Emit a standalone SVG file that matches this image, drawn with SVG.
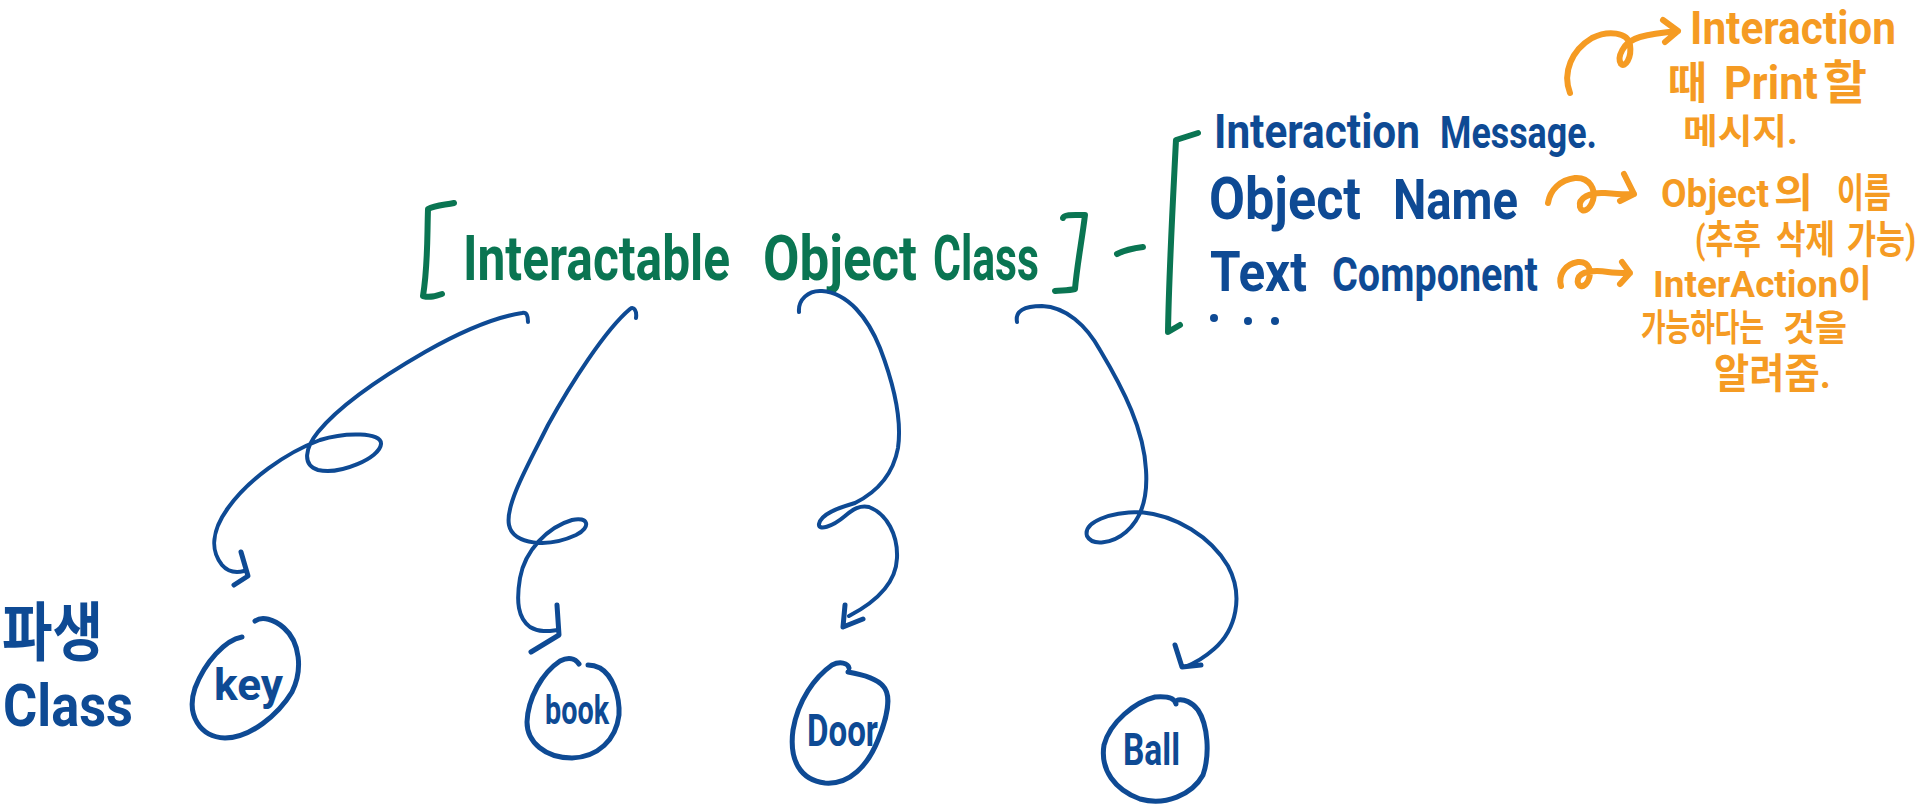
<svg xmlns="http://www.w3.org/2000/svg" width="1920" height="806" viewBox="0 0 1920 806">
<style>
.g{fill:none;stroke:#0a7552;stroke-width:6;stroke-linecap:round;stroke-linejoin:round}
.b{fill:none;stroke:#0e4a94;stroke-width:5;stroke-linecap:round;stroke-linejoin:round}
.bt{fill:none;stroke:#0e4a94;stroke-width:4;stroke-linecap:round;stroke-linejoin:round}
.o{fill:none;stroke:#f59b23;stroke-width:6;stroke-linecap:round;stroke-linejoin:round}
text{font-family:Roboto,"Noto Sans CJK KR",sans-serif;font-weight:700}
.tg{fill:#0a7552}
.tb{fill:#0e4a94}
.to{fill:#f59b23}
</style>
<rect width="1920" height="806" fill="#ffffff"/>

<g id="base-class">
  <path class="g" d="M454,203 C445,205 435,205 428,209 C427,240 428,265 423,296 C430,298 436,296 442,294"/>
  <text class="tg" transform="translate(463,280) scale(1,1.15)" font-size="54" textLength="267" lengthAdjust="spacingAndGlyphs">Interactable</text>
  <text class="tg" transform="translate(763,280) scale(1,1.15)" font-size="54" textLength="154" lengthAdjust="spacingAndGlyphs">Object</text>
  <text class="tg" transform="translate(933,280) scale(1,1.15)" font-size="54" textLength="106" lengthAdjust="spacingAndGlyphs">Class</text>
  <path class="g" d="M1063,218 C1064,214 1075,215 1085,215 C1082,240 1077,265 1075,289 C1068,291 1060,290 1055,291"/>
  <path class="g" d="M1117,254 C1125,250 1135,248 1143,247"/>
</g>

<g id="members">
  <path class="g" d="M1198,133 L1176,140 C1173,200 1169,270 1168,332 L1180,325"/>
  <text class="tb" transform="translate(1214,148) scale(1,1.1)" font-size="44" textLength="206" lengthAdjust="spacingAndGlyphs">Interaction</text>
  <text class="tb" transform="translate(1440,148) scale(1,1.1)" font-size="40" textLength="157" lengthAdjust="spacingAndGlyphs">Message.</text>
  <text class="tb" transform="translate(1209,219) scale(1,1.15)" font-size="52" textLength="152" lengthAdjust="spacingAndGlyphs">Object</text>
  <text class="tb" transform="translate(1393,219) scale(1,1.15)" font-size="48" textLength="125" lengthAdjust="spacingAndGlyphs">Name</text>
  <text class="tb" transform="translate(1210,291) scale(1,1.1)" font-size="50" textLength="97" lengthAdjust="spacingAndGlyphs">Text</text>
  <text class="tb" transform="translate(1332,291) scale(1,1.1)" font-size="44" textLength="206" lengthAdjust="spacingAndGlyphs">Component</text>
  <circle cx="1214" cy="318" r="4" fill="#0e4a94"/>
  <circle cx="1248" cy="321" r="4" fill="#0e4a94"/>
  <circle cx="1275" cy="321" r="4" fill="#0e4a94"/>
</g>

<g id="notes">
  <path class="o" d="M1570,93 C1562,72 1572,50 1592,38 C1608,30 1628,32 1630,45 C1632,58 1625,68 1621,64 C1617,58 1622,42 1640,37 C1655,33 1668,32 1678,31 M1663,20 L1678,31 L1665,42"/>
  <text class="to" transform="translate(1690,44) scale(1,1.05)" font-size="44" textLength="206" lengthAdjust="spacingAndGlyphs">Interaction</text>
  <text class="to" transform="translate(1668,99) scale(1,1.05)" font-size="42" textLength="39" lengthAdjust="spacingAndGlyphs">때</text>
  <text class="to" transform="translate(1724,99) scale(1,1.05)" font-size="44" textLength="94" lengthAdjust="spacingAndGlyphs">Print</text>
  <text class="to" transform="translate(1823,99) scale(1,1.05)" font-size="44" textLength="44" lengthAdjust="spacingAndGlyphs">할</text>
  <text class="to" x="1683" y="144" font-size="35" textLength="115" lengthAdjust="spacingAndGlyphs">메시지.</text>

  <path class="o" d="M1548,203 C1550,190 1560,180 1575,178 C1590,177 1596,190 1593,200 C1590,210 1582,214 1580,207 C1578,198 1590,192 1605,193 C1615,194 1625,195 1634,194 M1624,174 L1634,194 L1620,201"/>
  <text class="to" x="1661" y="207" font-size="39" textLength="108" lengthAdjust="spacingAndGlyphs">Object</text>
  <text class="to" x="1774" y="207" font-size="40" textLength="39" lengthAdjust="spacingAndGlyphs">의</text>
  <text class="to" x="1837" y="207" font-size="40" textLength="54" lengthAdjust="spacingAndGlyphs">이름</text>
  <text class="to" transform="translate(1695,253) scale(1,1.13)" font-size="34" textLength="66" lengthAdjust="spacingAndGlyphs">(추후</text>
  <text class="to" transform="translate(1776,253) scale(1,1.13)" font-size="34" textLength="59" lengthAdjust="spacingAndGlyphs">삭제</text>
  <text class="to" transform="translate(1847,253) scale(1,1.28)" font-size="30" textLength="69" lengthAdjust="spacingAndGlyphs">가능)</text>

  <path class="o" d="M1561,286 C1558,275 1565,264 1578,262 C1590,261 1592,272 1588,281 C1584,289 1576,287 1578,279 C1580,271 1595,270 1608,272 C1615,273 1622,273 1630,273 M1622,262 L1630,273 L1620,284"/>
  <text class="to" x="1653" y="297" font-size="37" textLength="219" lengthAdjust="spacingAndGlyphs">InterAction이</text>
  <text class="to" transform="translate(1641,341) scale(1,1.32)" font-size="28" textLength="123" lengthAdjust="spacingAndGlyphs">가능하다는</text>
  <text class="to" transform="translate(1783,341) scale(1,1.08)" font-size="34" textLength="64" lengthAdjust="spacingAndGlyphs">것을</text>
  <text class="to" transform="translate(1714,388) scale(1,1.07)" font-size="38" textLength="117" lengthAdjust="spacingAndGlyphs">알려줌.</text>
</g>

<g id="derived-label">
  <text class="tb" transform="translate(2,655) scale(1,1.18)" font-size="54" textLength="101" lengthAdjust="spacingAndGlyphs">파생</text>
  <text class="tb" transform="translate(3,726) scale(1,1.14)" font-size="52" textLength="130" lengthAdjust="spacingAndGlyphs">Class</text>
</g>

<g id="connectors">
  <path class="bt" d="M528,322 C528,316 527,312 522,313 C490,318 455,335 425,352 C385,375 340,405 318,432 C305,448 302,465 318,470 C340,475 380,458 381,444 C382,432 345,432 320,440 C285,453 248,480 228,508 C212,530 210,550 222,565 C228,572 236,573 244,571"/>
  <path class="b" d="M241,552 L248,576 L234,585"/>
  <path class="bt" d="M636,318 C637,311 634,306 630,309 C605,330 570,385 548,425 C528,465 505,505 509,525 C513,545 548,548 576,535 C592,527 588,516 572,520 C548,527 525,550 520,578 C516,602 518,618 530,627 C540,633 550,631 558,630"/>
  <path class="b" d="M557,605 L559,635 L531,652"/>
  <path class="bt" d="M799,312 C798,300 808,290 822,291 C848,293 868,318 880,348 C893,382 902,420 898,448 C893,475 877,492 855,503 C838,508 821,514 819,524 C818,531 832,527 845,516 C853,509 860,505 869,507 C887,514 898,535 897,558 C896,585 872,604 849,616"/>
  <path class="b" d="M845,605 L843,627 L863,619"/>
  <path class="bt" d="M1017,322 C1015,311 1024,306 1042,306 C1066,307 1086,325 1100,350 C1124,390 1144,430 1146,470 C1148,500 1140,520 1126,532 C1112,544 1092,546 1087,536 C1083,522 1110,512 1140,512 C1176,515 1211,537 1228,566 C1244,596 1236,630 1214,649 C1205,657 1195,663 1185,667"/>
  <path class="b" d="M1175,645 L1182,667 L1201,665"/>
</g>

<g id="node-key">
  <path class="b" d="M242,637 C225,640 205,662 195,688 C186,715 200,737 225,738 C250,738 278,715 292,692 C303,670 300,642 284,628 C274,619 262,616 255,621"/>
  <text class="tb" x="214" y="700" font-size="44" textLength="69" lengthAdjust="spacingAndGlyphs">key</text>
</g>
<g id="node-book">
  <path class="b" d="M579,664 C575,658 568,657 560,661 C542,673 528,698 527,722 C527,742 545,758 572,758 C598,757 616,740 619,715 C620,695 612,675 600,668 C596,666 592,665 588,665"/>
  <text class="tb" x="545" y="724" font-size="40" textLength="64" lengthAdjust="spacingAndGlyphs">book</text>
</g>
<g id="node-door">
  <path class="b" d="M849,668 C848,663 840,661 832,665 C815,677 798,700 793,730 C789,760 800,780 825,783 C850,785 868,765 878,740 C887,718 892,695 883,686 C876,678 860,674 848,672"/>
  <text class="tb" x="807" y="746" font-size="44" textLength="71" lengthAdjust="spacingAndGlyphs">Door</text>
</g>
<g id="node-ball">
  <path class="b" d="M1176,704 C1175,698 1168,696 1155,697 C1135,702 1110,722 1104,745 C1100,770 1115,790 1140,799 C1165,806 1192,795 1203,775 C1210,755 1208,725 1198,710 C1192,702 1184,699 1178,700"/>
  <text class="tb" x="1123" y="765" font-size="44" textLength="57" lengthAdjust="spacingAndGlyphs">Ball</text>
</g>
</svg>
